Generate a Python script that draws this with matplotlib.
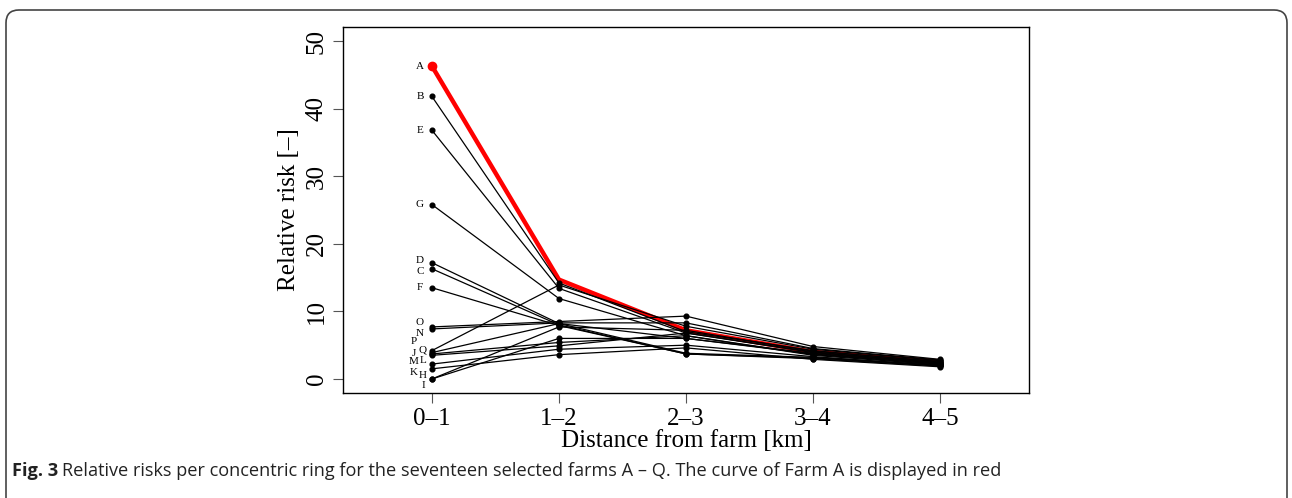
""" Relative risk per concentric ring for seventeen farms. """

import matplotlib.pyplot as plt
from matplotlib.patches import FancyBboxPatch

# distance rings (x categories)
rings = ['0\u20131', '1\u20132', '2\u20133', '3\u20134', '4\u20135']

# relative risk per farm, one value per ring
farms = ['A', 'B', 'E', 'G', 'D', 'C', 'F', 'O', 'N',
         'P', 'Q', 'J', 'L', 'M', 'K', 'H', 'I']
risk = {
    'A': [46.3, 14.7, 7.2, 4.0, 2.6],
    'B': [41.8, 14.2, 7.0, 4.2, 2.5],
    'E': [36.8, 13.4, 6.8, 4.0, 2.4],
    'G': [25.8, 11.9, 6.4, 3.6, 2.2],
    'D': [17.2, 8.2, 3.8, 3.2, 2.0],
    'C': [16.3, 8.0, 3.7, 3.0, 1.9],
    'F': [13.5, 7.9, 3.7, 3.1, 2.0],
    'O': [7.7, 8.5, 9.3, 4.8, 2.9],
    'N': [7.4, 8.3, 8.3, 4.5, 2.8],
    'P': [4.2, 13.9, 7.8, 4.4, 2.7],
    'Q': [3.9, 8.2, 6.0, 3.8, 2.3],
    'J': [3.7, 5.4, 6.4, 3.5, 2.1],
    'L': [3.5, 4.9, 6.8, 3.9, 2.4],
    'M': [2.2, 4.4, 5.0, 3.3, 2.0],
    'K': [1.5, 3.6, 4.6, 2.9, 1.8],
    'H': [0.0, 7.7, 7.2, 4.1, 2.6],
    'I': [0.0, 6.0, 6.0, 3.7, 2.2],
}
highlight = 'A'

# label offsets in pixels (dx, dy) so the letters do not pile up
label_offset = {
    'P': (-18, 9), 'Q': (-9, 2.5), 'J': (-18, 0.5), 'L': (-9, -5),
    'M': (-18, 2.5), 'K': (-18, -4), 'H': (-9, 3.3), 'I': (-9, -7),
    'D': (-12, 2), 'C': (-12, -3), 'O': (-12, 4), 'N': (-12, -4.6),
}

serif = ['Liberation Serif', 'DejaVu Serif']
sans = ['Open Sans', 'DejaVu Sans']

fig = plt.figure(figsize=(12.92, 4.98), dpi=100)
ax = fig.add_axes([0.2655, 0.2108, 0.7964 - 0.2655, 0.9458 - 0.2108])

x = list(range(len(rings)))

# farm A first, black curves over it
ax.plot(x, risk[highlight], color='#ff0000', lw=3.2, zorder=2)
ax.plot(x[0], risk[highlight][0], 'o', color='#ff0000', ms=6, zorder=2)
for f in farms:
    if f == highlight:
        continue
    ax.plot(x, risk[f], color='black', lw=0.9, marker='o', ms=3.4, zorder=3)

for f in farms:
    dx, dy = label_offset.get(f, (-12, 0))
    ax.annotate(f, (x[0], risk[f][0]), xytext=(dx, dy),
                textcoords='offset pixels', ha='center', va='center',
                fontsize=8, family=serif)

ax.set_xlim(-0.7, 4.7)
ax.set_ylim(-2.08, 52.08)
ax.set_xticks(x)
ax.set_xticklabels(rings)
ax.set_yticks([0, 10, 20, 30, 40, 50])
ax.set_yticklabels(['0', '10', '20', '30', '40', '50'], rotation=90, va='center')
ax.tick_params(direction='out', length=7, width=0.8, labelsize=18, pad=4,
               color='#555555')
for lab in ax.get_xticklabels() + ax.get_yticklabels():
    lab.set_family(serif)
for s in ax.spines.values():
    s.set_linewidth(1.0)
ax.set_xlabel('Distance from farm [km]', fontsize=18, family=serif, labelpad=0)
ax.set_ylabel('Relative risk [\u2013]', fontsize=18, family=serif, labelpad=4)

# caption frame with rounded corners, bottom runs off the image
frame = FancyBboxPatch((6 / 1292, -0.1), 1281 / 1292, 1.1 - 10 / 498,
                       boxstyle='round,pad=0,rounding_size=0.01',
                       transform=fig.transFigure, fill=False,
                       edgecolor='#444444', lw=1.2, mutation_aspect=1292 / 498)
fig.patches.append(frame)

t = fig.text(12 / 1292, 1 - 471 / 498, 'Fig. 3', fontsize=13.1, weight='bold',
             family=sans, va='center', color='#222222')
fig.canvas.draw()
bb = t.get_window_extent()
fig.text((bb.x1 + 4) / 1292, 1 - 471 / 498,
         'Relative risks per concentric ring for the seventeen selected farms '
         'A \u2013 Q. The curve of Farm A is displayed in red',
         fontsize=13.1, family=sans, va='center', color='#222222')

fig.savefig('out.png', dpi=100)
